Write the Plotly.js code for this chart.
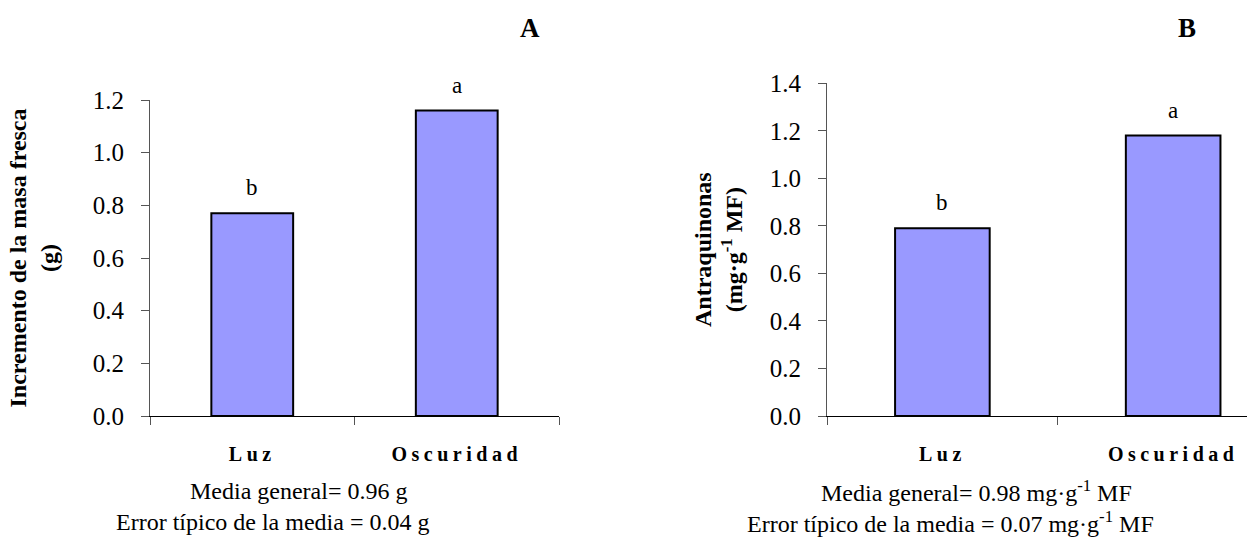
<!DOCTYPE html>
<html>
<head>
<meta charset="utf-8">
<script src="https://cdn.plot.ly/plotly-3.0.1.min.js"></script>
<style>
html,body{margin:0;padding:0;overflow:hidden;background:#fff;}
#chart{width:1247px;height:537px;}
.xtick text, .x2tick text{letter-spacing:4.5px;}
</style>
</head>
<body>
<div id="chart"></div>
<script>
// Data
const categories = ['Luz', 'Oscuridad'];
const masaFresca = [0.77, 1.16];
const antraquinonas = [0.79, 1.18];
const lettersA = ['b', 'a'];
const lettersB = ['b', 'a'];
const yTicksA = [0, 0.2, 0.4, 0.6, 0.8, 1.0, 1.2];
const yTicksB = [0, 0.2, 0.4, 0.6, 0.8, 1.0, 1.2, 1.4];
const notesA = ['Media general= 0.96 g', 'Error típico de la media = 0.04 g'];
const notesB = ['Media general= 0.98 mg·g<sup>-1</sup> MF', 'Error típico de la media = 0.07 mg·g<sup>-1</sup> MF'];

const FONT = "'Liberation Serif', 'Times New Roman', serif";
const barColor = '#9999ff';

const traces = [
  {type: 'bar', x: categories, y: masaFresca, xaxis: 'x', yaxis: 'y', width: 0.4,
   marker: {color: barColor, line: {color: '#000', width: 2}}, hoverinfo: 'skip'},
  {type: 'bar', x: categories, y: antraquinonas, xaxis: 'x2', yaxis: 'y2', width: 0.41,
   marker: {color: barColor, line: {color: '#000', width: 2}}, hoverinfo: 'skip'}
];

const px = v => (v - 150) / 1097;   // pixel x -> paper x (margin l=150)
const py = v => 1 - v / 537;        // pixel y -> paper y

const annotations = [];
categories.forEach((c, i) => {
  annotations.push({xref: 'x', yref: 'y', x: c, y: masaFresca[i], text: lettersA[i],
    showarrow: false, xanchor: 'center', yanchor: 'bottom', yshift: 11, font: {family: FONT, size: 23, color: '#000'}});
  annotations.push({xref: 'x2', yref: 'y2', x: c, y: antraquinonas[i], text: lettersB[i],
    showarrow: false, xanchor: 'center', yanchor: 'bottom', yshift: 11, font: {family: FONT, size: 23, color: '#000'}});
});
// Panel letters
annotations.push({xref: 'paper', yref: 'paper', x: px(530), y: py(28), text: '<b>A</b>',
  xanchor: 'center', yanchor: 'middle', showarrow: false, font: {family: FONT, size: 27, color: '#000'}});
annotations.push({xref: 'paper', yref: 'paper', x: px(1187), y: py(28), text: '<b>B</b>',
  xanchor: 'center', yanchor: 'middle', showarrow: false, font: {family: FONT, size: 27, color: '#000'}});
// Footnotes
const noteCentersA = [298, 272];
const noteCentersB = [976, 950];
const noteRows = [491, 522];
[[notesA, noteCentersA], [notesB, noteCentersB]].forEach(([notes, cxs]) => {
  notes.forEach((t, i) => {
    annotations.push({xref: 'paper', yref: 'paper', x: px(cxs[i]), y: py(noteRows[i]),
      xanchor: 'center', yanchor: 'middle',
      text: t, showarrow: false, font: {family: FONT, size: 24, color: '#000'}});
  });
});

const yAxisCommon = {
  showgrid: false, zeroline: false, showline: true, linecolor: '#555', linewidth: 1,
  ticks: 'outside', ticklen: 8, tickcolor: '#555', tickformat: '.1f', ticklabelstandoff: 12,
  tickfont: {family: FONT, size: 25, color: '#000'}, automargin: false, fixedrange: true
};
const xAxisCommon = {
  type: 'category', showgrid: false, zeroline: false, showline: true, linecolor: '#000', linewidth: 1,
  ticks: 'outside', ticklen: 8, tickcolor: '#555', tickson: 'boundaries',
  tickfont: {family: FONT, size: 20, color: '#000', weight: 'bold'}, ticklabelstandoff: 20,
  automargin: false, fixedrange: true
};

const layout = {
  width: 1247, height: 537,
  margin: {l: 150, r: 0, t: 0, b: 0, pad: 0},
  paper_bgcolor: '#fff', plot_bgcolor: 'rgba(0,0,0,0)',
  showlegend: false,
  xaxis: Object.assign({}, xAxisCommon, {domain: [0, px(559)], range: [-0.5, 1.5], anchor: 'y'}),
  yaxis: Object.assign({}, yAxisCommon, {domain: [py(416), py(100)], range: [0, 1.2],
    tickvals: yTicksA, anchor: 'x',
    title: {text: '<b>Incremento de la masa fresca<br>(g)</b>', standoff: 28,
      font: {family: FONT, size: 24, color: '#000'}}}),
  xaxis2: Object.assign({}, xAxisCommon, {domain: [px(827), 1], range: [-0.5, 1.32], anchor: 'y2'}),
  yaxis2: Object.assign({}, yAxisCommon, {domain: [py(416), py(83.3)], range: [0, 1.4],
    tickvals: yTicksB, anchor: 'x2',
    title: {text: '<b>Antraquinonas<br>(mg·g<sup>-1</sup> MF)</b>', standoff: 20,
      font: {family: FONT, size: 24, color: '#000'}}}),
  annotations: annotations
};

Plotly.newPlot('chart', traces, layout, {displayModeBar: false, staticPlot: true});
</script>
</body>
</html>
